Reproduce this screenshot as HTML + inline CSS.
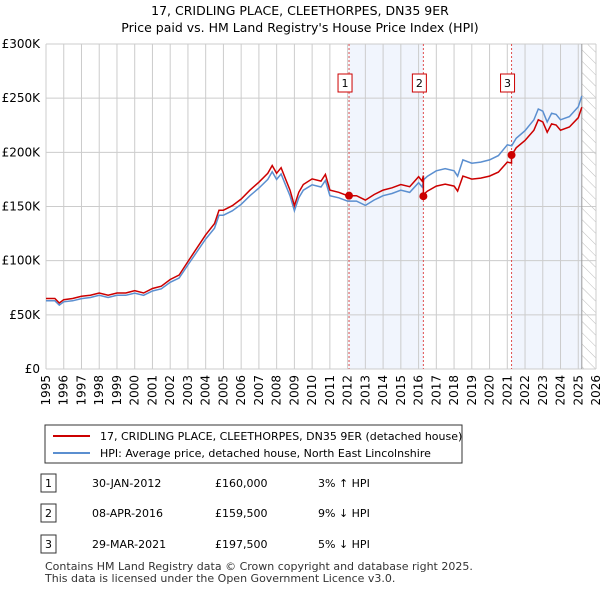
<!DOCTYPE html>
<html><head><meta charset="utf-8"><style>
body{margin:0;background:#fff;font-family:"Liberation Sans","DejaVu Sans",sans-serif;}
svg text{font-family:"DejaVu Sans","Liberation Sans",sans-serif;}
</style></head><body>
<svg id="c" width="600" height="590" xmlns="http://www.w3.org/2000/svg">
<text x="300" y="15" font-size="12.5" text-anchor="middle">17, CRIDLING PLACE, CLEETHORPES, DN35 9ER</text>
<text x="300" y="32" font-size="12.5" text-anchor="middle">Price paid vs. HM Land Registry's House Price Index (HPI)</text>
<g id="plot"></g>
<rect x="45" y="425" width="417" height="38" fill="#fff" stroke="#333"/>
<line x1="53" y1="436" x2="90" y2="436" stroke="#cc0000" stroke-width="2"/>
<text x="100" y="440" font-size="11">17, CRIDLING PLACE, CLEETHORPES, DN35 9ER (detached house)</text>
<line x1="53" y1="453" x2="90" y2="453" stroke="#5b8fd0" stroke-width="2"/>
<text x="100" y="457" font-size="11">HPI: Average price, detached house, North East Lincolnshire</text>
<g id="tbl" font-size="11"></g>
<text x="45" y="570" font-size="11" fill="#333">Contains HM Land Registry data © Crown copyright and database right 2025.</text>
<text x="45" y="582" font-size="11" fill="#333">This data is licensed under the Open Government Licence v3.0.</text>
</svg>
<script>
const years=[1995,1996,1997,1998,1999,2000,2001,2002,2003,2004,2005,2006,2007,2008,2009,2010,2011,2012,2013,2014,2015,2016,2017,2018,2019,2020,2021,2022,2023,2024,2025,2026];
const yTicks=[0,50000,100000,150000,200000,250000,300000];
const yLabels=["£0","£50K","£100K","£150K","£200K","£250K","£300K"];
const hpiT=[1995,1995.5,1995.75,1996,1996.5,1997,1997.5,1998,1998.5,1999,1999.5,2000,2000.5,2001,2001.5,2002,2002.5,2003,2003.5,2004,2004.5,2004.75,2005,2005.5,2006,2006.5,2007,2007.5,2007.75,2008,2008.25,2008.5,2008.75,2009,2009.25,2009.5,2010,2010.5,2010.75,2011,2011.5,2012,2012.5,2013,2013.5,2014,2014.5,2015,2015.5,2016,2016.2,2016.3,2016.5,2017,2017.5,2018,2018.2,2018.5,2019,2019.5,2020,2020.5,2021,2021.25,2021.5,2022,2022.5,2022.75,2023,2023.25,2023.5,2023.75,2024,2024.5,2025,2025.2];
const hpiV=[63,63,59,62,63,65,66,68,66,68,68,70,68,72,74,80,84,96,108,120,130,142,142,146,152,160,167,175,182,175,180,170,160,146,158,165,170,168,174,160,158,155,155,151,156,160,162,165,163,172,168,175,178,183,185,183,178,193,190,191,193,197,207,206,213,220,230,240,238,228,236,235,230,233,242,252];
const saleT=[2012.08,2016.27,2021.24];
const saleV=[160000,159500,197500];
const saleLabels=["1","2","3"];
const saleDates=["30-JAN-2012","08-APR-2016","29-MAR-2021"];
const salePrices=["£160,000","£159,500","£197,500"];
const saleHpi=["3% ↑ HPI","9% ↓ HPI","5% ↓ HPI"];
const dataEnd=2025.2;

const L=46,R=596,T=44,B=369;
const X=t=>L+(t-1995)/(2026-1995)*(R-L);
const Y=v=>B-v/300000*(B-T);
const NS="http://www.w3.org/2000/svg";
const g=document.getElementById('plot');
function mk(tag,a,p){const e=document.createElementNS(NS,tag);for(const k in a)e.setAttribute(k,a[k]);(p||g).appendChild(e);return e;}
// shading
let s1=mk('rect',{x:X(saleT[0]),y:T,width:X(saleT[1])-X(saleT[0]),height:B-T,fill:'#eef3fc',opacity:0.8});


let s2=mk('rect',{x:X(saleT[2]),y:T,width:X(dataEnd)-X(saleT[2]),height:B-T,fill:'#eef3fc',opacity:0.8});


// hatch
const defs=mk('defs',{});
const pat=mk('pattern',{id:'h',width:8,height:8,patternUnits:'userSpaceOnUse',patternTransform:'rotate(-45)'},defs);
mk('line',{x1:0,y1:0,x2:0,y2:8,stroke:'#bbb','stroke-width':1},pat);
let hr=mk('rect',{x:X(dataEnd),y:T,width:R-X(dataEnd),height:B-T,fill:'url(#h)'});


// grid
years.forEach(y=>{let l=mk('line',{x1:X(y),x2:X(y),y1:T,y2:B,stroke:'#ccc'});


let t=mk('text',{x:0,y:0,'font-size':12,'text-anchor':'end',transform:`translate(${X(y)+4},${B+6}) rotate(-90)`});t.textContent=y;

});
yTicks.forEach((v,i)=>{let l=mk('line',{x1:L,x2:R,y1:Y(v),y2:Y(v),stroke:'#ccc'});


let t=mk('text',{x:L-6,y:Y(v)+4,'font-size':12,'text-anchor':'end'});t.textContent=yLabels[i];

});
let ax=mk('line',{x1:X(dataEnd),x2:X(dataEnd),y1:T,y2:B,stroke:'#999'});


// sale vlines & labels
saleT.forEach((t,i)=>{let l=mk('line',{x1:X(t),x2:X(t),y1:T,y2:B,stroke:'#e05050','stroke-dasharray':'2,2'});


let r=mk('rect',{x:X(t)-11,y:74,width:14,height:18,fill:'#fff',stroke:'#cc0000'});


let tx=mk('text',{x:X(t)-4,y:87,'font-size':11,'text-anchor':'middle'});tx.textContent=saleLabels[i];

});
// series
const interp=t=>{for(let i=0;i<hpiT.length-1;i++){if(t<=hpiT[i+1]){const f=(t-hpiT[i])/(hpiT[i+1]-hpiT[i]);return (hpiV[i]+f*(hpiV[i+1]-hpiV[i]))*1000;}}return hpiV[hpiV.length-1]*1000;};
function ratio(t){let k=0;for(let i=0;i<saleT.length;i++)if(t>=saleT[i])k=i;return saleV[k]/interp(saleT[k]);}
let bp=hpiT.map((t,i)=>X(t).toFixed(1)+','+Y(hpiV[i]*1000).toFixed(1)).join(' ');
let bl=mk('polyline',{points:bp,fill:'none',stroke:'#5b8fd0','stroke-width':1.5});


let pts=[];hpiT.forEach((t,i)=>{
 saleT.forEach(s=>{if(i>0&&hpiT[i-1]<s&&t>=s){pts.push([s,interp(s)*ratio(s-1e-6)]);pts.push([s,interp(s)*ratio(s)]);}});
 pts.push([t,hpiV[i]*1000*ratio(t)]);});
let rl=mk('polyline',{points:pts.map(p=>X(p[0]).toFixed(1)+','+Y(p[1]).toFixed(1)).join(' '),fill:'none',stroke:'#cc0000','stroke-width':1.5});


saleT.forEach((t,i)=>{let c=mk('circle',{cx:X(t),cy:Y(saleV[i]),r:4,fill:'#cc0000'});

});
// table
const tb=document.getElementById('tbl');
const rowsY=[486,516,547];
saleT.forEach((t,i)=>{const y=rowsY[i];
let r=mk('rect',{x:41,y:y-12,width:15,height:18,fill:'#fff',stroke:'#333'},tb);


[[48.5,saleLabels[i],'middle'],[92,saleDates[i],'start'],[215,salePrices[i],'start'],[318,saleHpi[i],'start']].forEach(c=>{
 let e=mk('text',{x:c[0],y:y+1,'text-anchor':c[2]},tb);e.textContent=c[1];
 
 });});
</script>
</body></html>
